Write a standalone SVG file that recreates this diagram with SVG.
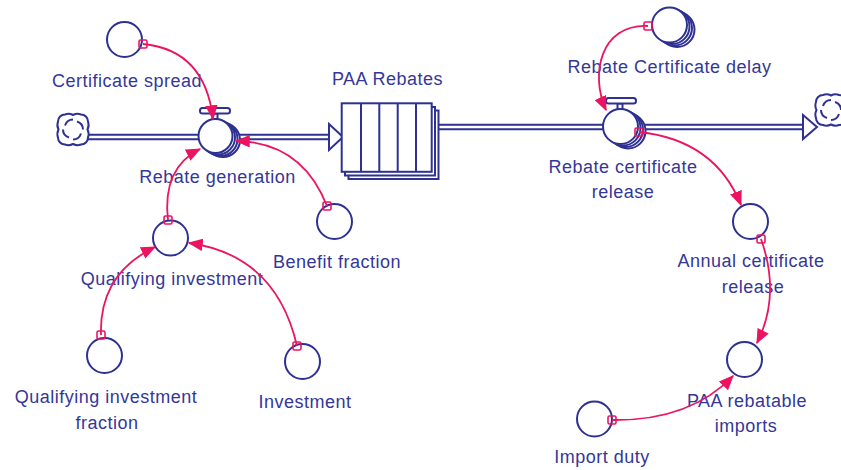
<svg xmlns="http://www.w3.org/2000/svg" width="841" height="470" viewBox="0 0 841 470">
  <style>
    .nv { stroke: #2e3192; stroke-width: 2; fill: #fff; }
    .ln { stroke: #2e3192; stroke-width: 2; fill: none; }
    .lbl { font-family: "Liberation Sans", Arial, sans-serif; font-size: 18px; letter-spacing: 0.5px; fill: #34379a; text-anchor: middle; }
    .conn { stroke: #ec1460; stroke-width: 1.8; fill: none; marker-end: url(#ah); }
    .org { stroke: #ec1460; stroke-width: 1.6; fill: none; }
  </style>
  <defs>
    <marker id="ah" viewBox="0 0 12 10" refX="11" refY="5" markerWidth="15" markerHeight="12.5" markerUnits="userSpaceOnUse" orient="auto">
      <path d="M0,0 L12,5 L0,10 z" fill="#ec1460"/>
    </marker>
    <!-- cloud (source/sink) centred on 0,0 -->
    <g id="cloud">
      <path class="nv" stroke-width="1.8" d="M-8,-15 Q-4,-16.5 0,-14.5 Q4,-16.5 8,-15 A7,7 0 0 1 15,-8 Q16.5,-4 14.5,0 Q16.5,4 15,8 A7,7 0 0 1 8,15 Q4,16.5 0,14.5 Q-4,16.5 -8,15 A7,7 0 0 1 -15,8 Q-16.5,4 -14.5,0 Q-16.5,-4 -15,-8 A7,7 0 0 1 -8,-15 Z"/>
      <path class="ln" stroke-width="1.6" d="M0,-10 q-6,0 -8,6 M10,0 q0,-6 -6,-8 M0,10 q6,0 8,-6 M-10,0 q0,6 6,8"/>
    </g>
  </defs>

  <!-- flows -->
  <g id="flows">
    <use href="#cloud" x="73" y="129.5"/>
    <line class="ln" x1="88" y1="134.7" x2="330" y2="134.7"/>
    <line class="ln" x1="88" y1="139.3" x2="330" y2="139.3"/>
    <polygon class="nv" points="329,124 343,137 329,150"/>

    <use href="#cloud" x="831" y="110"/>
    <line class="ln" x1="432" y1="124.7" x2="804" y2="124.7"/>
    <line class="ln" x1="432" y1="129.3" x2="804" y2="129.3"/>
    <polygon class="nv" points="803,115 817,127 803,139"/>
  </g>

  <!-- stock -->
  <g id="paa-rebates">
    <rect class="nv" x="348.5" y="110.5" width="90" height="68.5"/>
    <rect class="nv" x="345" y="107" width="90" height="68.5"/>
    <rect class="nv" x="341.7" y="103.3" width="90" height="68.5" stroke-width="2.5"/>
    <path class="ln" d="M361,103.3 V171.8 M379.3,103.3 V171.8 M397.7,103.3 V171.8 M416,103.3 V171.8"/>
    <text class="lbl" x="387.5" y="85">PAA Rebates</text>
  </g>

  <!-- rate: rebate generation -->
  <g id="rebate-generation">
    <circle class="nv" cx="223" cy="140" r="17"/>
    <circle class="nv" cx="220.5" cy="139" r="17"/>
    <circle class="nv" cx="218" cy="137.5" r="17"/>
    <circle class="nv" cx="215.5" cy="136" r="17"/>
    <rect class="nv" x="212.5" y="113.5" width="5" height="5.5" stroke-width="1.6"/>
    <rect class="nv" x="200" y="108" width="30" height="5.5" rx="2.5" stroke-width="1.8"/>
    <text class="lbl" x="217.5" y="183">Rebate generation</text>
  </g>

  <!-- rate: rebate certificate release -->
  <g id="rebate-certificate-release">
    <circle class="nv" cx="628" cy="131" r="17.5"/>
    <circle class="nv" cx="625.5" cy="129.5" r="17.5"/>
    <circle class="nv" cx="623" cy="128" r="17.5"/>
    <circle class="nv" cx="620.5" cy="126.5" r="17.5"/>
    <rect class="nv" x="617.5" y="103.5" width="5" height="5.5" stroke-width="1.6"/>
    <rect class="nv" x="606" y="98" width="30" height="5.5" rx="2.5" stroke-width="1.8"/>
    <text class="lbl" x="623" y="173">Rebate certificate</text>
    <text class="lbl" x="623" y="198">release</text>
  </g>

  <!-- auxiliaries -->
  <g id="certificate-spread">
    <circle class="nv" cx="124.5" cy="39.5" r="17.5"/>
    <text class="lbl" x="127" y="87">Certificate spread</text>
  </g>
  <g id="benefit-fraction">
    <circle class="nv" cx="334.5" cy="221.5" r="17.5"/>
    <text class="lbl" x="337" y="268">Benefit fraction</text>
  </g>
  <g id="qualifying-investment">
    <circle class="nv" cx="170.5" cy="238" r="17.5"/>
    <text class="lbl" x="172" y="285">Qualifying investment</text>
  </g>
  <g id="qualifying-investment-fraction">
    <circle class="nv" cx="104.5" cy="355.5" r="17.5"/>
    <text class="lbl" x="106" y="403">Qualifying investment</text>
    <text class="lbl" x="107" y="429">fraction</text>
  </g>
  <g id="investment">
    <circle class="nv" cx="302.5" cy="361.5" r="17.5"/>
    <text class="lbl" x="305" y="408">Investment</text>
  </g>
  <g id="rebate-certificate-delay">
    <circle class="nv" cx="677" cy="29.5" r="17.5"/>
    <circle class="nv" cx="674.5" cy="28" r="17.5"/>
    <circle class="nv" cx="672" cy="26.5" r="17.5"/>
    <circle class="nv" cx="669.5" cy="25" r="17.5"/>
    <text class="lbl" x="669.5" y="73">Rebate Certificate delay</text>
  </g>
  <g id="annual-certificate-release">
    <circle class="nv" cx="750.5" cy="221.5" r="17.5"/>
    <text class="lbl" x="751" y="267">Annual certificate</text>
    <text class="lbl" x="753" y="293">release</text>
  </g>
  <g id="paa-rebatable-imports">
    <circle class="nv" cx="744.5" cy="359.5" r="17.5"/>
    <text class="lbl" x="747" y="407">PAA rebatable</text>
    <text class="lbl" x="746" y="432">imports</text>
  </g>
  <g id="import-duty">
    <circle class="nv" cx="594.5" cy="419" r="17.5"/>
    <text class="lbl" x="602" y="463">Import duty</text>
  </g>

  <!-- information links -->
  <g id="connectors">
    <path class="conn" d="M143,44 Q205,50 213,119"/>
    <rect class="org" x="139" y="40" width="8" height="8" rx="1.5"/>

    <path class="conn" d="M168,220 Q162,168 200,149"/>
    <rect class="org" x="164" y="216" width="8" height="8" rx="1.5"/>

    <path class="conn" d="M327,206 Q302,142 236,141"/>
    <rect class="org" x="323" y="202" width="8" height="8" rx="1.5"/>

    <path class="conn" d="M101,335 Q99,274 155,247"/>
    <rect class="org" x="97" y="331" width="8" height="8" rx="1.5"/>

    <path class="conn" d="M297,346 Q276,255 189,243"/>
    <rect class="org" x="293" y="342" width="8" height="8" rx="1.5"/>

    <path class="conn" d="M648,26 C600,24 590,75 606,110"/>
    <rect class="org" x="644" y="22" width="8" height="8" rx="1.5"/>

    <path class="conn" d="M639,132 Q715,140 741,205"/>
    <rect class="org" x="635" y="128" width="8" height="8" rx="1.5"/>

    <path class="conn" d="M761,239 Q781,295 757,343"/>
    <rect class="org" x="757" y="235" width="8" height="8" rx="1.5"/>

    <path class="conn" d="M612,420 Q690,421 733,376"/>
    <rect class="org" x="608" y="416" width="8" height="8" rx="1.5"/>
  </g>
</svg>
